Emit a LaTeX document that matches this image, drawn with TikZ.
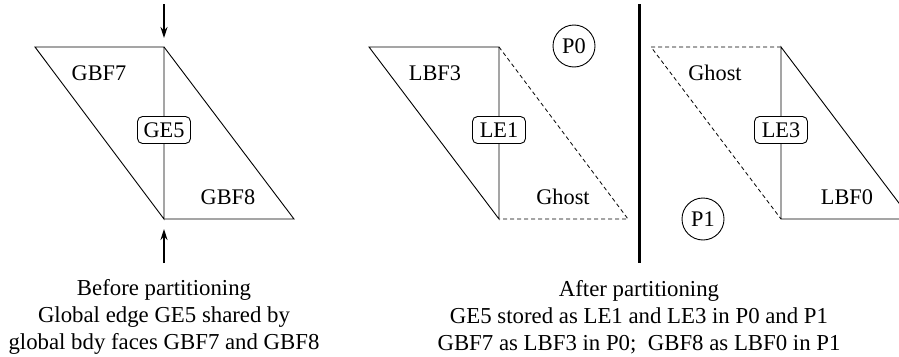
\documentclass[tikz,border=0pt]{standalone}
\usepackage{fontspec}
\setmainfont{Liberation Serif}
\usetikzlibrary{arrows.meta}
\begin{document}
\begin{tikzpicture}[x=1pt,y=-1pt,
  thinline/.style={line width=0.9pt},
  ghostline/.style={line width=0.8pt,dash pattern=on 4pt off 3pt},
  edgebox/.style={draw,line width=0.9pt,rounded corners=5pt,fill=white,inner sep=0pt,minimum width=53pt,minimum height=27pt,font=\fontsize{22.3}{25}\selectfont},
  procbox/.style={draw,circle,line width=0.9pt,inner sep=0pt,minimum size=42pt,font=\fontsize{22.3}{25}\selectfont},
  lbl/.style={font=\fontsize{22.3}{25}\selectfont,inner sep=0pt},
  captext/.style={font=\fontsize{22.8}{27}\selectfont,align=center,inner sep=0pt},
  arr/.style={line width=1.6pt,-{Stealth[length=11pt,width=7pt]}}]
\useasboundingbox (0,0) rectangle (899,356);
\clip (0,0) rectangle (899,356);
% --- left: before partitioning
\coordinate (A1) at (35,47);
\coordinate (A2) at (164,47);
\coordinate (A3) at (164,219);
\coordinate (A4) at (294,219);
\draw[thinline] (A1) -- (A2) -- (A3) -- cycle;
\draw[thinline] (A2) -- (A4) -- (A3);
\node[edgebox] (ge5) at (164,130) {GE5};
\node[lbl] (gbf7) at (99,73) {GBF7};
\node[lbl] (gbf8) at (228,197) {GBF8};
\coordinate (ta) at (164,4);
\coordinate (tb) at (164,38);
\coordinate (ba) at (164,263);
\coordinate (bb) at (164,229);
\draw[arr] (ta) -- (tb);
\draw[arr] (ba) -- (bb);
% --- middle: P0
\coordinate (B1) at (369,47);
\coordinate (B2) at (499,47);
\coordinate (B3) at (499,219);
\coordinate (B4) at (628,219);
\draw[thinline] (B1) -- (B2) -- (B3) -- cycle;
\draw[ghostline] (B2) -- (B4) -- (B3);
\node[edgebox] (le1) at (499,130) {LE1};
\node[lbl] (lbf3) at (435,73) {LBF3};
\node[lbl] (gh1) at (563,197) {Ghost};
\node[procbox] (p0) at (574,46) {P0};
% --- separator
\coordinate (S1) at (639,4);
\coordinate (S2) at (639,263);
\draw[line width=3pt] (S1) -- (S2);
% --- right: P1
\coordinate (C1) at (651,47);
\coordinate (C2) at (781,47);
\coordinate (C3) at (781,219);
\coordinate (C4) at (911,219);
\draw[ghostline] (C2) -- (C1) -- (C3);
\draw[thinline] (C2) -- (C3) -- (C4) -- cycle;
\node[edgebox] (le3) at (781,130) {LE3};
\node[lbl] (gh2) at (715,73) {Ghost};
\node[lbl] (lbf0) at (847,197) {LBF0};
\node[procbox] (p1) at (703,219) {P1};
% --- captions
\node[captext] (capL) at (164,317) {Before partitioning\\Global edge GE5 shared by\\global bdy faces GBF7 and GBF8};
\node[captext] (capR) at (639,317) {After partitioning\\GE5 stored as LE1 and LE3 in P0 and P1\\GBF7 as LBF3 in P0;\ \ GBF8 as LBF0 in P1};
\end{tikzpicture}
\end{document}
